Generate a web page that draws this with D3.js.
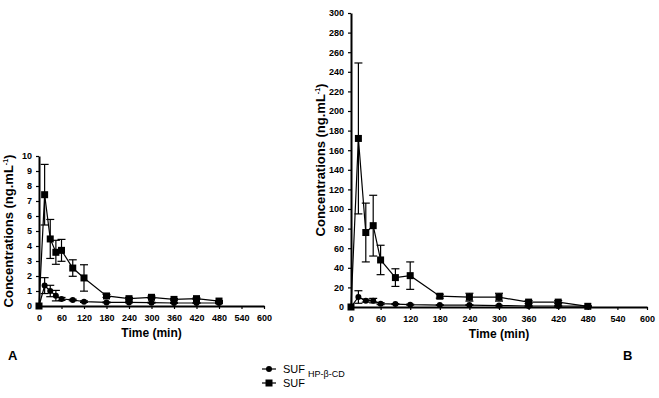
<!DOCTYPE html>
<html>
<head>
<meta charset="utf-8">
<script src="https://cdn.jsdelivr.net/npm/d3@7"></script>
<style>
  body { margin: 0; background: #fff; }
  svg { display: block; font-family: Arial, "Liberation Sans", sans-serif; }
</style>
</head>
<body>
<div id="chart"></div>
<script>
// Sampling times (min)
const times = [0, 15, 30, 45, 60, 90, 120, 180, 240, 300, 360, 420, 480];
const xTicks = [0, 60, 120, 180, 240, 300, 360, 420, 480, 540, 600];

// Panel A
const sufA = [0, 7.42, 4.47, 3.58, 3.71, 2.53, 1.87, 0.67, 0.49, 0.58, 0.44, 0.49, 0.33];
const sufAErr = [0, 2.02, 1.3, 0.8, 0.73, 0.55, 0.88, 0.1, 0.08, 0.08, 0.05, 0.05, 0.03];
const hpA = [0, 1.36, 1.0, 0.69, 0.47, 0.40, 0.29, 0.24, 0.24, 0.22, 0.2, 0.2, 0.2];
const hpAErr = [0, 0.53, 0.38, 0.35, 0.1, 0.05, 0.05, 0.03, 0.03, 0.03, 0.02, 0.02, 0.02];
const yTicksA = d3.range(0, 11, 1);

// Panel B
const sufB = [0, 172, 76, 83, 48, 30, 32, 11, 10, 10, 5, 5, 0.7];
const sufBErr = [0, 77, 30, 31, 15, 9, 14, 2, 4, 4, 1.5, 1.5, 0.5];
const hpB = [0, 10.2, 6.5, 6.5, 3.4, 3, 2.4, 2, 2, 1.5, 1, 1, 0.8];
const hpBErr = [0, 6.4, 1.5, 2.3, 1, 0.5, 0.5, 0.3, 0.3, 0.3, 0.2, 0.2, 0.2];
const yTicksB = d3.range(0, 301, 20);

const width = 659, height = 398;
const svg = d3.select('#chart').append('svg')
    .attr('width', width)
    .attr('height', height);

function drawPanel(box, yMax, yTicks, suf, sufErr, hp, hpErr) {
    const x = d3.scaleLinear().domain([0, 600]).range([box.left, box.right]);
    const y = d3.scaleLinear().domain([0, yMax]).range([box.bottom, box.top]);
    const g = svg.append('g');

    // Axes
    const xAxis = g.append('g')
        .attr('transform', `translate(0,${box.bottom})`)
        .call(d3.axisBottom(x).tickValues(xTicks).tickSize(3).tickSizeOuter(0));
    const yAxis = g.append('g')
        .attr('transform', `translate(${box.left},0)`)
        .call(d3.axisLeft(y).tickValues(yTicks).tickSize(3).tickSizeOuter(0));
    [xAxis, yAxis].forEach(a => {
        a.select('.domain').attr('stroke', '#000').attr('stroke-width', 2);
        a.selectAll('.tick line').attr('stroke', '#000').attr('stroke-width', 1.2);
        a.selectAll('.tick text')
            .attr('fill', '#000')
            .attr('font-size', '9px')
            .attr('font-weight', 'bold')
            .attr('font-family', 'Arial, "Liberation Sans", sans-serif');
    });
    xAxis.selectAll('.tick text').attr('dy', '0.95em');
    yAxis.selectAll('.tick text').attr('dx', '-1px');

    // Axis titles
    g.append('text')
        .attr('x', (box.left + box.right) / 2)
        .attr('y', box.bottom + 31)
        .attr('text-anchor', 'middle')
        .attr('font-size', '12px')
        .attr('font-weight', 'bold')
        .text('Time (min)');

    const yt = g.append('text')
        .attr('transform', `translate(${box.left - 26},${(box.top + box.bottom) / 2}) rotate(-90)`)
        .attr('text-anchor', 'middle')
        .attr('font-size', '13px')
        .attr('font-weight', 'bold');
    yt.append('tspan').text('Concentrations (ng.mL');
    yt.append('tspan').attr('font-size', '7px').attr('dy', '-5').text('-1');
    yt.append('tspan').attr('dy', '5').text(')');

    const series = [
        { vals: suf, err: sufErr, shape: 'square' },
        { vals: hp, err: hpErr, shape: 'circle' }
    ];

    const line = d3.line()
        .x((d, i) => x(times[i]))
        .y(d => y(d));

    series.forEach(s => {
        // Error bars
        const eb = g.append('g').attr('stroke', '#000').attr('stroke-width', 1.2);
        times.forEach((t, i) => {
            if (!s.err[i]) return;
            const cx = x(t);
            const lo = y(Math.max(0, s.vals[i] - s.err[i]));
            const hi = y(s.vals[i] + s.err[i]);
            eb.append('line').attr('x1', cx).attr('x2', cx).attr('y1', lo).attr('y2', hi);
            eb.append('line').attr('x1', cx - 4).attr('x2', cx + 4).attr('y1', hi).attr('y2', hi);
            eb.append('line').attr('x1', cx - 4).attr('x2', cx + 4).attr('y1', lo).attr('y2', lo);
        });

        g.append('path')
            .datum(s.vals)
            .attr('fill', 'none')
            .attr('stroke', '#000')
            .attr('stroke-width', 1.2)
            .attr('d', line);

        if (s.shape === 'square') {
            g.selectAll(null)
                .data(s.vals)
                .enter()
                .append('rect')
                .attr('x', (d, i) => x(times[i]) - 3.5)
                .attr('y', d => y(d) - 3.5)
                .attr('width', 7)
                .attr('height', 7)
                .attr('fill', '#000');
        } else {
            g.selectAll(null)
                .data(s.vals)
                .enter()
                .append('circle')
                .attr('cx', (d, i) => x(times[i]))
                .attr('cy', d => y(d))
                .attr('r', 3)
                .attr('fill', '#000');
        }
    });
}

drawPanel({ left: 39, right: 264, top: 156, bottom: 306 }, 10, yTicksA, sufA, sufAErr, hpA, hpAErr);
drawPanel({ left: 351, right: 647, top: 13, bottom: 307 }, 300, yTicksB, sufB, sufBErr, hpB, hpBErr);

// Panel letters
svg.append('text').attr('x', 8).attr('y', 360)
    .attr('font-size', '13px').attr('font-weight', 'bold').text('A');
svg.append('text').attr('x', 623).attr('y', 360)
    .attr('font-size', '13px').attr('font-weight', 'bold').text('B');

// Legend
const legend = svg.append('g');
const legendRows = [
    { shape: 'circle', main: 'SUF', sub: 'HP-β-CD', y: 369 },
    { shape: 'square', main: 'SUF', sub: '', y: 383 }
];
legendRows.forEach(r => {
    legend.append('line')
        .attr('x1', 262).attr('x2', 276)
        .attr('y1', r.y).attr('y2', r.y)
        .attr('stroke', '#000').attr('stroke-width', 1.2);
    if (r.shape === 'circle') {
        legend.append('circle').attr('cx', 269).attr('cy', r.y).attr('r', 3).attr('fill', '#000');
    } else {
        legend.append('rect').attr('x', 265.5).attr('y', r.y - 3.5)
            .attr('width', 7).attr('height', 7).attr('fill', '#000');
    }
    const t = legend.append('text')
        .attr('x', 283).attr('y', r.y + 4)
        .attr('font-size', '11px');
    t.append('tspan').text(r.main);
    if (r.sub) {
        t.append('tspan').attr('dx', 3).attr('dy', 4).attr('font-size', '9px').text(r.sub);
    }
});
</script>
</body>
</html>
